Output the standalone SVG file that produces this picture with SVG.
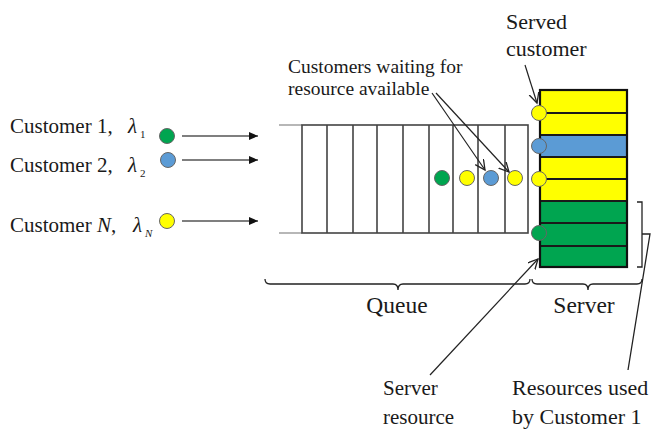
<svg xmlns="http://www.w3.org/2000/svg" width="651" height="433" viewBox="0 0 651 433" font-family="'Liberation Serif', 'Times New Roman', serif">
<defs>
<style>
text{font-family:'Liberation Serif','Times New Roman',serif;fill:#1a1a1a}
.lbl{font-size:21px}
.lbl2{font-size:22px}
.ann{font-size:19.5px}
.big{font-size:23.5px}
.lam{font-style:italic;font-size:21px}
.sub{font-size:11px}
.subi{font-size:11px;font-style:italic}
.q{stroke:#444;stroke-width:1.6;fill:none}
.qe{stroke:#999;stroke-width:1.4}
.row{stroke:#1a1a1a;stroke-width:2}
.c{stroke:#666;stroke-width:1}
.g{fill:#00a550}.b{fill:#5b9bd5}.y{fill:#ffff00}
.arr{stroke:#555;stroke-width:1.3;fill:none}
.ptr{stroke:#222;stroke-width:1.2;fill:none}
.brace{stroke:#222;stroke-width:1.3;fill:none}
</style>
<marker id="fa" markerUnits="userSpaceOnUse" markerWidth="10" markerHeight="10" refX="9" refY="4" orient="auto"><path d="M0,0 L9,4 L0,8 z" fill="#111"/></marker>
<marker id="oa" markerUnits="userSpaceOnUse" markerWidth="12" markerHeight="12" refX="10" refY="5" orient="auto"><path d="M0,0 L10,5 L0,10" fill="none" stroke="#222" stroke-width="1.3"/></marker>
</defs>
<rect width="651" height="433" fill="#fff"/>

<g id="customer1">
<text class="lbl" x="10" y="133">Customer 1,</text>
<text class="lam" x="128" y="133">λ</text><text class="sub" x="140" y="138">1</text>
<circle class="c g" cx="167" cy="136" r="7.5"/>
</g>
<g id="customer2">
<text class="lbl" x="10" y="172">Customer 2,</text>
<text class="lam" x="128" y="172">λ</text><text class="sub" x="140" y="177">2</text>
<circle class="c b" cx="168" cy="160" r="7.5"/>
</g>
<g id="customerN">
<text class="lbl" x="10" y="232">Customer <tspan font-style="italic">N</tspan>,</text>
<text class="lam" x="133" y="232">λ</text><text class="subi" x="145" y="237">N</text>
<circle class="c y" cx="167" cy="221" r="7.5"/>
</g>

<g id="queue">
<line class="qe" x1="279" y1="125" x2="302" y2="125"/>
<line class="qe" x1="279" y1="233" x2="302" y2="233"/>
<rect class="q" x="302" y="125" width="226" height="108"/>
<path class="q" d="M327,125V233M353,125V233M377,125V233M403,125V233M429,125V233M453,125V233M478,125V233M505,125V233"/>
<circle class="c g" cx="442" cy="178" r="7.5"/>
<circle class="c y" cx="467" cy="178" r="7.5"/>
<circle class="c b" cx="491" cy="178" r="7.5"/>
<circle class="c y" cx="515" cy="178" r="7.5"/>
</g>

<g id="server">
<rect x="540" y="90" width="87" height="45" fill="#ffff00"/>
<rect x="540" y="135" width="87" height="22" fill="#5b9bd5"/>
<rect x="540" y="157" width="87" height="44" fill="#ffff00"/>
<rect x="540" y="201" width="87" height="66" fill="#00a550"/>
<path class="row" d="M540,113H627M540,135H627M540,157H627M540,179H627M540,201H627M540,223H627M540,246H627"/>
<rect x="540" y="90" width="87" height="177" fill="none" stroke="#111" stroke-width="2.2"/>
<circle class="c y" cx="539" cy="113" r="7.5"/>
<circle class="c b" cx="539" cy="146" r="7.5"/>
<circle class="c y" cx="539" cy="179" r="7.5"/>
<circle class="c g" cx="539" cy="233" r="7.5"/>
</g>

<g id="connectors">
<line class="arr" x1="182" y1="136" x2="258" y2="136" marker-end="url(#fa)"/>
<line class="arr" x1="182" y1="160" x2="258" y2="160" marker-end="url(#fa)"/>
<line class="arr" x1="182" y1="221" x2="258" y2="221" marker-end="url(#fa)"/>
<line class="ptr" x1="432" y1="93" x2="485" y2="170" marker-end="url(#oa)"/>
<line class="ptr" x1="436" y1="93" x2="509" y2="172" marker-end="url(#oa)"/>
<line class="ptr" x1="525" y1="65" x2="537" y2="103" marker-end="url(#oa)"/>
<line class="ptr" x1="430" y1="375" x2="538" y2="259" marker-end="url(#oa)"/>
<path class="brace" d="M637,202H642V267H637M642,234H650L628,370"/>
</g>

<g id="braces">
<path class="brace" d="M265,279Q265,284 270,284L393,284Q398,284 398,290Q398,284 403,284L525,284Q530,284 530,279"/>
<path class="brace" d="M532,279Q532,284 537,284L583,284Q588,284 588,290Q588,284 593,284L637,284Q642,284 642,279"/>
</g>

<g id="labels">
<text class="ann" x="288" y="73">Customers waiting for</text>
<text class="ann" x="288" y="95">resource available</text>
<text class="lbl2" x="506" y="29">Served</text>
<text class="lbl2" x="506" y="56">customer</text>
<text class="big" x="397" y="313" text-anchor="middle">Queue</text>
<text class="big" x="584" y="313" text-anchor="middle">Server</text>
<text class="lbl" x="383" y="395">Server</text>
<text class="lbl" x="383" y="424">resource</text>
<text class="lbl2" x="512" y="395">Resources used</text>
<text class="lbl2" x="512" y="424">by Customer 1</text>
</g>
</svg>
